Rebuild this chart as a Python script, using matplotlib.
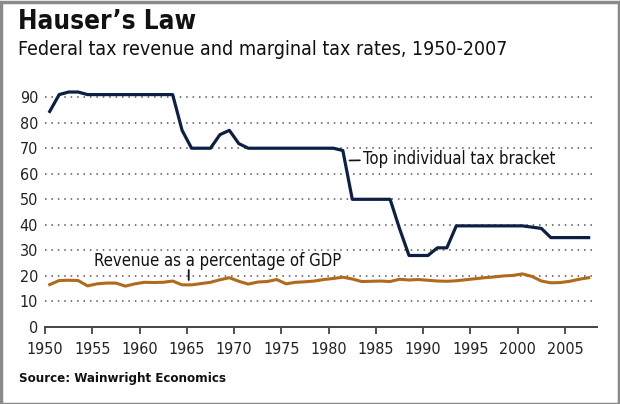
import matplotlib
matplotlib.use("Agg")
import matplotlib.pyplot as plt
from matplotlib.patches import Rectangle

years = list(range(1950, 2008))
top_tax_rate = [84.4, 91, 92, 92, 91, 91, 91, 91, 91, 91,
                91, 91, 91, 91, 77, 70, 70, 70, 75.3, 77,
                71.8, 70, 70, 70, 70, 70, 70, 70, 70, 70,
                70, 69.1, 50, 50, 50, 50, 50, 38.5, 28, 28,
                28, 31, 31, 39.6, 39.6, 39.6, 39.6, 39.6, 39.6, 39.6,
                39.6, 39.1, 38.6, 35, 35, 35, 35, 35]
revenue_gdp = [16.6, 18.2, 18.3, 18.2, 16.1, 16.9, 17.2, 17.2, 16.0, 16.9,
               17.5, 17.4, 17.5, 18.0, 16.5, 16.5, 17.0, 17.5, 18.5, 19.3,
               17.9, 16.8, 17.6, 17.8, 18.6, 16.9, 17.5, 17.7, 18.0, 18.6,
               19.0, 19.5, 18.8, 17.8, 17.9, 18.0, 17.8, 18.7, 18.4, 18.6,
               18.3, 18.0, 17.9, 18.1, 18.5, 18.9, 19.3, 19.6, 20.0, 20.2,
               20.8, 19.8, 18.0, 17.3, 17.4, 17.9, 18.7, 19.3]
x_ticks = [1950, 1955, 1960, 1965, 1970, 1975, 1980, 1985, 1990, 1995, 2000, 2005]
y_ticks = [0, 10, 20, 30, 40, 50, 60, 70, 80, 90]

title = "Hauser\u2019s Law"
subtitle = "Federal tax revenue and marginal tax rates, 1950-2007"
source = "Source: Wainwright Economics"
tax_label = "Top individual tax bracket"
rev_label = "Revenue as a percentage of GDP"

FONT = "DejaVu Sans"
plt.rcParams['font.family'] = [FONT]
plt.rcParams['font.stretch'] = 'condensed'

W, H = 620, 404
fig = plt.figure(figsize=(W / 100, H / 100), dpi=100)
fig.patch.set_facecolor('white')

left_px, right_px, bottom_px = 45, 597, 327
ymax = 95
px_per_unit = 2.554
height_px = ymax * px_per_unit
ax = fig.add_axes([left_px / W, (H - bottom_px) / H, (right_px - left_px) / W, height_px / H])

x_mid = [y + 0.5 for y in years]
ax.plot(x_mid, top_tax_rate, color='#0d1f45', lw=2.3, solid_joinstyle='round', zorder=3)
ax.plot(x_mid, revenue_gdp, color='#b06a1c', lw=2.2, solid_joinstyle='round', zorder=3)

ax.set_xlim(1950, 1950 + (right_px - left_px) / 9.455)
ax.set_ylim(0, ymax)
ax.set_xticks(x_ticks)
ax.set_xticklabels([str(t) for t in x_ticks], fontsize=11.5, color='#222222')
ax.set_yticks(y_ticks)
ax.set_yticklabels([str(t) for t in y_ticks], fontsize=11.5, color='#222222')

grid_end = (593 - left_px) / (right_px - left_px)
for t in y_ticks[1:]:
    ax.axhline(t, xmin=0, xmax=grid_end, color='#555555', lw=1.1,
               ls=(0, (1, 3.2)), zorder=1)

for s in ['top', 'right', 'left']:
    ax.spines[s].set_visible(False)
ax.spines['bottom'].set_color('#444444')
ax.spines['bottom'].set_linewidth(1.4)
ax.tick_params(axis='x', direction='out', length=5, width=1.3, color='#444444', pad=6)
ax.tick_params(axis='y', length=0, pad=5)

ax.annotate(tax_label, xy=(1982.2, 65.2), xytext=(1983.6, 65.8),
            fontsize=12, color='#111111', va='center', ha='left',
            arrowprops=dict(arrowstyle='-', color='#111111', lw=1.2,
                            shrinkA=0, shrinkB=0))
ax.text(1968.3, 25.9, rev_label, fontsize=12, color='#111111', ha='center', va='center')
ax.annotate('', xy=(1965.2, 18.4), xytext=(1965.2, 22.3),
            arrowprops=dict(arrowstyle='-', color='#111111', lw=1.3,
                            shrinkA=0, shrinkB=0))

fig.text(18 / W, 1 - 29 / H, title, fontsize=18.7, fontweight='bold', color='#111111',
         ha='left', va='baseline')
fig.text(18 / W, 1 - 55 / H, subtitle, fontsize=14, color='#111111',
         ha='left', va='baseline')
fig.text(19 / W, 1 - 382 / H, source, fontsize=9.5, fontweight='bold', color='#111111',
         ha='left', va='baseline')

fig.patches.append(Rectangle((0.5 / W, 0.5 / H), 1 - 2 / W, 1 - 2 / H,
                             transform=fig.transFigure, fill=False,
                             edgecolor='#8a8a8a', lw=2.5))

fig.savefig('out.png', dpi=100, facecolor='white')
